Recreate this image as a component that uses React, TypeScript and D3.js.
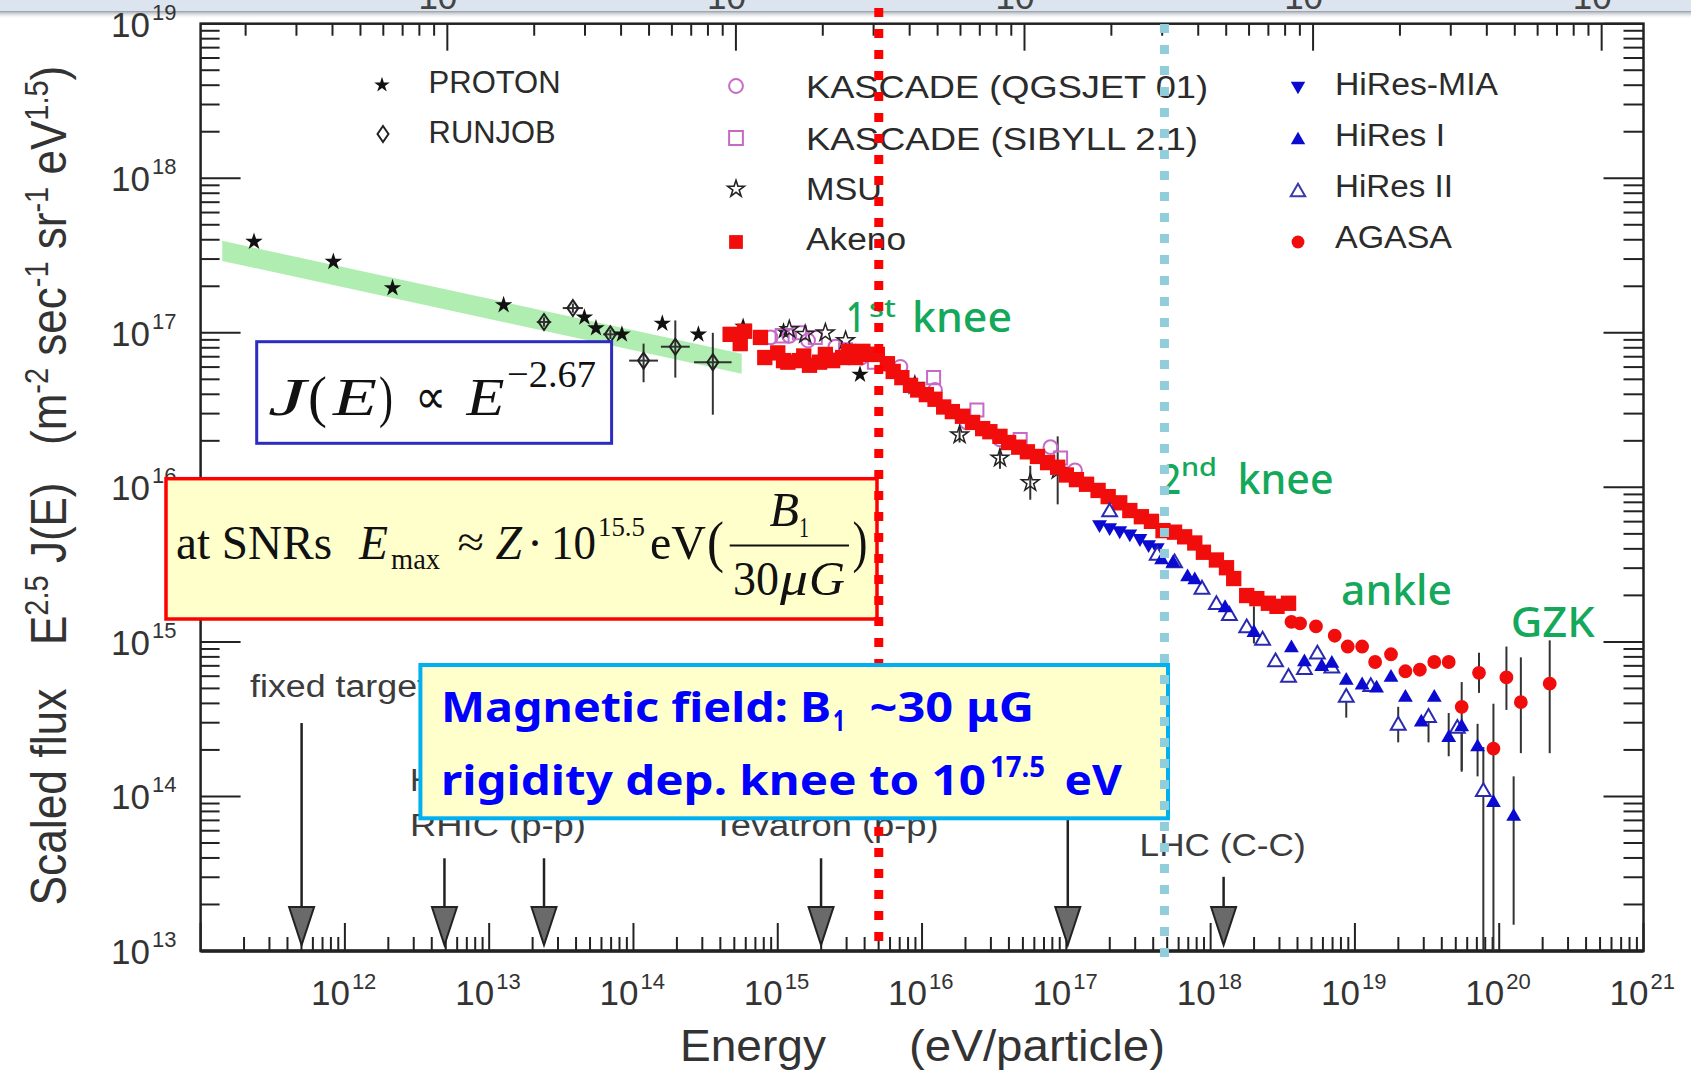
import React from "react";
import * as d3 from "d3";

const W = 1691;
const H = 1074;

// ---------------- axis values ----------------
const xLabelExponents = [12, 13, 14, 15, 16, 17, 18, 19, 20, 21];
const yLabelExponents = [13, 14, 15, 16, 17, 18, 19];
const topAxisMajorLogE = [12.71, 14.71, 16.71, 18.71, 20.71];

// ---------------- data (log10 E [eV], log10 E^2.5 J) ----------------
const protonBandLogE = [11.15, 14.75];
const protonBandLogF = [17.53, 16.8];
const protonBandHalf = 0.065;

const protonLogE = [11.37, 11.92, 12.33, 13.1, 13.66, 13.74, 13.92, 14.2, 14.45, 14.76, 15.04, 15.57];
const protonLogF = [17.59, 17.46, 17.29, 17.18, 17.1, 17.03, 16.99, 17.06, 16.99, 17.04, 17.01, 16.73];

const runjobLogE = [13.38, 13.58, 13.84, 14.07, 14.29, 14.55];
const runjobLogF = [17.07, 17.16, 16.99, 16.82, 16.91, 16.81];
const runjobErrLo = [17.04, 17.13, 16.96, 16.68, 16.71, 16.47];
const runjobErrHi = [17.1, 17.19, 17.02, 16.93, 17.08, 17.0];
const runjobEErr = [0.05, 0.07, 0.05, 0.1, 0.1, 0.13];

const kascadeQLogE = [14.95, 15.08, 15.21, 15.4, 15.58, 15.85, 16.09, 16.31, 16.54, 16.89, 17.06];
const kascadeQLogF = [16.97, 16.98, 16.95, 16.91, 16.84, 16.78, 16.63, 16.42, 16.31, 16.26, 16.11];

const kascadeSLogE = [15.03, 15.15, 15.26, 15.47, 15.67, 16.08, 16.38, 16.68, 16.96];
const kascadeSLogF = [16.98, 17.0, 16.97, 16.89, 16.81, 16.71, 16.5, 16.31, 16.19];

const msuLogE = [15.08, 15.19, 15.33, 15.47, 15.95, 16.26, 16.54, 16.75, 16.94];
const msuLogF = [17.02, 16.99, 17.0, 16.95, 16.66, 16.34, 16.19, 16.03, 16.11];
const msuErrLo = [NaN, NaN, NaN, NaN, NaN, 16.29, 16.12, 15.92, 15.89];
const msuErrHi = [NaN, NaN, NaN, NaN, NaN, 16.39, 16.25, 16.14, 16.33];

const akenoLogE = [14.67, 14.77, 14.88, 14.74, 14.91, 15.0, 15.04, 15.07, 15.15, 15.18, 15.22, 15.29, 15.33, 15.38, 15.45, 15.49, 15.54, 15.59, 15.62, 15.69, 15.76, 15.8, 15.86, 15.92, 15.97, 16.03, 16.09, 16.15, 16.21, 16.28, 16.35, 16.42, 16.47, 16.54, 16.6, 16.67, 16.73, 16.8, 16.87, 16.94, 17.0, 17.07, 17.14, 17.22, 17.29, 17.37, 17.44, 17.52, 17.59, 17.67, 17.75, 17.82, 17.89, 17.95, 18.04, 18.11, 18.16, 18.25, 18.32, 18.4, 18.46, 18.54];
const akenoLogF = [16.99, 17.01, 16.97, 16.93, 16.84, 16.87, 16.82, 16.81, 16.82, 16.85, 16.79, 16.81, 16.86, 16.82, 16.84, 16.88, 16.84, 16.88, 16.86, 16.86, 16.8, 16.75, 16.71, 16.66, 16.63, 16.6, 16.57, 16.52, 16.49, 16.46, 16.42, 16.38, 16.36, 16.33, 16.29, 16.26, 16.23, 16.2, 16.16, 16.13, 16.08, 16.05, 16.02, 15.98, 15.94, 15.9, 15.85, 15.81, 15.78, 15.72, 15.71, 15.68, 15.64, 15.58, 15.53, 15.48, 15.41, 15.3, 15.28, 15.25, 15.23, 15.25];

const hiresMiaLogE = [17.23, 17.3, 17.37, 17.44, 17.51, 17.57, 17.63];
const hiresMiaLogF = [15.76, 15.74, 15.72, 15.7, 15.67, 15.63, 15.61];

const hiresILogE = [17.66, 17.74, 17.84, 17.89, 18.1, 18.3, 18.56, 18.65, 18.77, 18.84, 18.94, 19.05, 19.15, 19.25, 19.35, 19.46, 19.55, 19.65, 19.74, 19.85, 19.96, 20.1];
const hiresILogF = [15.53, 15.51, 15.42, 15.4, 15.22, 15.06, 14.96, 14.87, 14.84, 14.86, 14.75, 14.72, 14.7, 14.77, 14.64, 14.48, 14.64, 14.38, 14.45, 14.32, 13.96, 13.87];
const hiresIErrLo = [NaN, NaN, NaN, NaN, NaN, 14.99, NaN, NaN, NaN, NaN, NaN, NaN, NaN, NaN, NaN, NaN, NaN, 14.26, 14.17, 14.13, NaN, 13.17];
const hiresIErrHi = [NaN, NaN, NaN, NaN, NaN, 15.23, NaN, NaN, NaN, NaN, NaN, NaN, NaN, NaN, NaN, NaN, NaN, 14.54, 14.47, 14.47, NaN, 14.13];

const hiresIILogE = [17.3, 17.63, 17.75, 17.94, 18.04, 18.13, 18.25, 18.36, 18.45, 18.54, 18.65, 18.74, 18.84, 18.94, 19.11, 19.3, 19.51, 19.71, 19.89];
const hiresIILogF = [15.84, 15.56, 15.51, 15.34, 15.24, 15.17, 15.09, 15.01, 14.87, 14.77, 14.82, 14.92, 14.83, 14.64, 14.71, 14.46, 14.51, 14.44, 14.03];
const hiresIIErrLo = [NaN, NaN, NaN, NaN, NaN, NaN, NaN, NaN, NaN, NaN, NaN, NaN, NaN, 14.51, NaN, 14.35, 14.35, NaN, 13.0];
const hiresIIErrHi = [NaN, NaN, NaN, NaN, NaN, NaN, NaN, NaN, NaN, NaN, NaN, NaN, NaN, 14.67, NaN, 14.58, 14.56, NaN, 14.32];

const agasaLogE = [18.56, 18.62, 18.73, 18.86, 18.95, 19.05, 19.14, 19.25, 19.35, 19.45, 19.55, 19.65, 19.74, 19.86, 19.96, 20.05, 20.15, 20.35];
const agasaLogF = [15.13, 15.12, 15.1, 15.04, 14.97, 14.97, 14.87, 14.92, 14.81, 14.82, 14.87, 14.87, 14.58, 14.8, 14.31, 14.77, 14.61, 14.73];
const agasaErrLo = [NaN, NaN, NaN, NaN, NaN, NaN, NaN, NaN, NaN, NaN, NaN, NaN, 14.16, 14.67, 13.0, 14.56, 14.28, 14.28];
const agasaErrHi = [NaN, NaN, NaN, NaN, NaN, NaN, NaN, NaN, NaN, NaN, NaN, NaN, 14.74, 14.93, 14.6, 14.97, 14.9, 15.01];

// accelerator arrows
const arrowLabels = ["fixed target", "HERA (γ-p)", "RHIC (p-p)", "Tevatron (p-p̄)", "LHC (p-p)", "LHC (C-C)"];
const arrowLogE = [11.7, 12.69, 13.38, 15.3, 17.01, 18.09];
const arrowTopLogF = [14.475, 13.6, 13.6, 13.6, 13.98, 13.48];

// vertical marker lines
const knee1LogE = 15.7;
const knee2LogE = 17.68;

const SANS = "'Liberation Sans', Arial, Helvetica, sans-serif";
const SERIF = "'Liberation Serif', 'Times New Roman', serif";
const KFONT = "'Noto Sans', 'Open Sans', sans-serif";

export default function App() {
  const left = 200.6, right = 1643.5, top = 23.7, bottom = 951;
  const x = d3.scaleLog().domain([1e11, 1e21]).range([left, right]);
  const y = d3.scaleLog().domain([1e13, 1e19]).range([bottom, top]);
  const X = (v: number) => x(Math.pow(10, v));
  const Y = (v: number) => y(Math.pow(10, v));
  const sym = (type: any, size: number) => d3.symbol().type(type).size(size)() as string;

  const starP = sym(d3.symbolStar, 95);
  const squareP = sym(d3.symbolSquare, 235);
  const circleP = sym(d3.symbolCircle, 150);
  const triP = sym(d3.symbolTriangle, 95);
  const kCircleP = sym(d3.symbolCircle, 150);
  const kSquareP = sym(d3.symbolSquare, 170);
  const diamondP = "M0,-8L5.5,0L0,8L-5.5,0Z";

  // ticks
  const bottomTicks: { p: number; major: boolean }[] = [];
  for (let k = 11; k <= 21; k++) {
    for (let m = 1; m <= 9; m++) {
      const le = k + Math.log10(m);
      if (le <= 21.0001) bottomTicks.push({ p: X(le), major: m === 1 });
    }
  }
  const leftTicks: { p: number; major: boolean }[] = [];
  for (let k = 13; k <= 19; k++) {
    for (let m = 1; m <= 9; m++) {
      const le = k + Math.log10(m);
      if (le <= 19.0001) leftTicks.push({ p: Y(le), major: m === 1 });
    }
  }
  const topTicks: { p: number; major: boolean }[] = [];
  const topBases = [topAxisMajorLogE[0] - 2, ...topAxisMajorLogE];
  topBases.forEach((b) => {
    for (let m = 1; m <= 9; m++) {
      const le = b + 2 * Math.log10(m);
      if (le >= 11 && le <= 21) topTicks.push({ p: X(le), major: m === 1 });
    }
  });

  const band = d3
    .area<[number, number]>()
    .x((d) => X(d[0]))
    .y0((d) => Y(d[1] - protonBandHalf))
    .y1((d) => Y(d[1] + protonBandHalf));
  const bandPath = band(protonBandLogE.map((e, i) => [e, protonBandLogF[i]] as [number, number])) as string;

  const errBars = (es: number[], lo: number[], hi: number[], key: string) =>
    es.map((e, i) =>
      isNaN(lo[i]) ? null : (
        <line key={key + i} x1={X(e)} x2={X(e)} y1={Y(lo[i])} y2={Y(hi[i])} stroke="#333" strokeWidth={2} />
      )
    );

  const markers = (es: number[], fs: number[], path: string, props: any, key: string, rot = 0) =>
    es.map((e, i) => (
      <path
        key={key + i}
        d={path}
        transform={`translate(${X(e)},${Y(fs[i])})${rot ? ` rotate(${rot})` : ""}`}
        {...props}
      />
    ));

  const legendText = (t: string, xx: number, yy: number, len: number) => (
    <text x={xx} y={yy} fontFamily={SANS} fontSize={31} fill="#2b2b2b" textLength={len} lengthAdjust="spacingAndGlyphs">
      {t}
    </text>
  );

  const arrowX = arrowLogE.map((e) => X(e));
  const tip = bottom - 6;
  const headTop = tip - 38;

  const violet = "#c66ac8";
  const red = "#f20d0d";
  const blue = "#0a0ad0";
  const green = "#14a85a";

  return (
    <svg
      width={W}
      height={H}
      viewBox={`0 0 ${W} ${H}`}
      style={{ position: "absolute", left: 0, top: 0, background: "#fff" }}
    >
      <defs>
        <linearGradient id="shadow" x1="0" y1="0" x2="0" y2="1">
          <stop offset="0" stopColor="#8d96a0" stopOpacity={0.9} />
          <stop offset="1" stopColor="#ffffff" stopOpacity={0} />
        </linearGradient>
      </defs>
      <rect x={0} y={0} width={W} height={H} fill="#fff" />
      {/* top slide band */}
      <rect x={0} y={0} width={W} height={12} fill="#dbe4ef" />
      <rect x={0} y={11} width={W} height={8} fill="url(#shadow)" />

      {/* top axis label fragments */}
      {topAxisMajorLogE.map((e, i) => (
        <text key={"tl" + i} x={X(e) + 10} y={8.5} textAnchor="end" fontFamily={SANS} fontSize={35} fill="#444">
          10
        </text>
      ))}

      {/* frame */}
      <rect x={left} y={top} width={right - left} height={bottom - top} fill="none" stroke="#222" strokeWidth={2.5} />
      <line x1={left} x2={right} y1={bottom} y2={bottom} stroke="#222" strokeWidth={3.5} />

      {/* ticks */}
      {bottomTicks.map((t, i) => (
        <line key={"bt" + i} x1={t.p} x2={t.p} y1={bottom} y2={bottom - (t.major ? 28 : 14)} stroke="#222" strokeWidth={2} />
      ))}
      {topTicks.map((t, i) => (
        <line key={"tt" + i} x1={t.p} x2={t.p} y1={top} y2={top + (t.major ? 27 : 12)} stroke="#222" strokeWidth={2} />
      ))}
      {leftTicks.map((t, i) => (
        <line key={"lt" + i} x1={left} x2={left + (t.major ? 40 : 19)} y1={t.p} y2={t.p} stroke="#222" strokeWidth={2} />
      ))}
      {leftTicks.map((t, i) => (
        <line key={"rt" + i} x1={right} x2={right - (t.major ? 40 : 20)} y1={t.p} y2={t.p} stroke="#222" strokeWidth={2} />
      ))}

      {/* tick labels */}
      {xLabelExponents.map((k) => (
        <g key={"xl" + k} fontFamily={SANS} fill="#333">
          <text x={X(k) + 5} y={1005} textAnchor="end" fontSize={35}>
            10
          </text>
          <text x={X(k) + 7} y={989} fontSize={22}>
            {k}
          </text>
        </g>
      ))}
      {yLabelExponents.map((k) => (
        <g key={"yl" + k} fontFamily={SANS} fill="#333">
          <text x={150} y={Y(k) + 13} textAnchor="end" fontSize={35}>
            10
          </text>
          <text x={152} y={Y(k) - 4} fontSize={22}>
            {k}
          </text>
        </g>
      ))}

      {/* axis titles */}
      <g fontFamily={SANS} fill="#333">
        <text x={680} y={1061} fontSize={45} textLength={146} lengthAdjust="spacingAndGlyphs">
          Energy
        </text>
        <text x={909} y={1061} fontSize={45} textLength={256} lengthAdjust="spacingAndGlyphs">
          (eV/particle)
        </text>
      </g>
      <g transform="translate(66,0) scale(1.13,1) rotate(-90)" fontFamily={SANS} fill="#333" fontSize={44}>
        <text x={-905.6} y={0} textLength={217} lengthAdjust="spacingAndGlyphs">
          Scaled flux
        </text>
        <text x={-645} y={0}>
          E<tspan dy={-16} fontSize={29}>2.5</tspan>
          <tspan dy={16}> J(E)</tspan>
        </text>
        <text x={-445} y={0}>
          (m<tspan dy={-16} fontSize={29}>-2</tspan>
          <tspan dy={16}> sec</tspan>
          <tspan dy={-16} fontSize={29}>-1</tspan>
          <tspan dy={16}> sr</tspan>
          <tspan dy={-16} fontSize={29}>-1</tspan>
          <tspan dy={16}> eV</tspan>
          <tspan dy={-16} fontSize={29}>1.5</tspan>
          <tspan dy={16}>)</tspan>
        </text>
      </g>

      {/* proton fit band */}
      <path d={bandPath} fill="#8ee68e" opacity={0.7} />

      {/* error bars */}
      {errBars(runjobLogE, runjobErrLo, runjobErrHi, "rje")}
      {runjobLogE.map((e, i) => (
        <line key={"rjh" + i} x1={X(e - runjobEErr[i])} x2={X(e + runjobEErr[i])} y1={Y(runjobLogF[i])} y2={Y(runjobLogF[i])} stroke="#333" strokeWidth={2} />
      ))}
      {errBars(msuLogE, msuErrLo, msuErrHi, "mse")}
      {errBars(hiresILogE, hiresIErrLo, hiresIErrHi, "h1e")}
      {errBars(hiresIILogE, hiresIIErrLo, hiresIIErrHi, "h2e")}
      {errBars(agasaLogE, agasaErrLo, agasaErrHi, "age")}

      {/* data markers */}
      {markers(runjobLogE, runjobLogF, diamondP, { fill: "none", stroke: "#222", strokeWidth: 2 }, "rj")}
      {markers(protonLogE, protonLogF, starP, { fill: "#111" }, "pr")}
      {markers(kascadeQLogE, kascadeQLogF, kCircleP, { fill: "none", stroke: violet, strokeWidth: 2 }, "kq")}
      {markers(kascadeSLogE, kascadeSLogF, kSquareP, { fill: "none", stroke: violet, strokeWidth: 2 }, "ks")}
      {markers(msuLogE, msuLogF, starP, { fill: "none", stroke: "#222", strokeWidth: 1.5 }, "ms")}
      {markers(akenoLogE, akenoLogF, squareP, { fill: red }, "ak")}
      {markers(hiresMiaLogE, hiresMiaLogF, triP, { fill: blue }, "hm", 180)}
      {markers(hiresIILogE, hiresIILogF, triP, { fill: "#fff", stroke: "#2a2ab0", strokeWidth: 2 }, "h2")}
      {markers(hiresILogE, hiresILogF, triP, { fill: blue }, "h1")}
      {markers(agasaLogE, agasaLogF, circleP, { fill: red }, "ag")}

      {/* legends */}
      <path d={sym(d3.symbolStar, 75)} transform="translate(382,85)" fill="#111" />
      <path d={diamondP} transform="translate(383,134)" fill="none" stroke="#222" strokeWidth={2} />
      {legendText("PROTON", 428.6, 93, 132)}
      {legendText("RUNJOB", 428.6, 143, 127)}

      <path d={sym(d3.symbolCircle, 150)} transform="translate(736,86)" fill="none" stroke={violet} strokeWidth={2} />
      <path d={sym(d3.symbolSquare, 190)} transform="translate(736,138)" fill="none" stroke={violet} strokeWidth={2} />
      <path d={sym(d3.symbolStar, 85)} transform="translate(736,189)" fill="none" stroke="#222" strokeWidth={1.6} />
      <path d={sym(d3.symbolSquare, 190)} transform="translate(736,242)" fill={red} />
      {legendText("KASCADE (QGSJET 01)", 806, 98, 402)}
      {legendText("KASCADE (SIBYLL 2.1)", 806, 150, 392)}
      {legendText("MSU", 806, 200, 76)}
      {legendText("Akeno", 806, 250, 100)}

      <path d={sym(d3.symbolTriangle, 90)} transform="translate(1298,86) rotate(180)" fill={blue} />
      <path d={sym(d3.symbolTriangle, 90)} transform="translate(1298,140)" fill={blue} />
      <path d={sym(d3.symbolTriangle, 90)} transform="translate(1298,192)" fill="#fff" stroke="#3a3aa8" strokeWidth={2} />
      <path d={sym(d3.symbolCircle, 130)} transform="translate(1298,242)" fill={red} />
      {legendText("HiRes-MIA", 1335, 95, 163)}
      {legendText("HiRes I", 1335, 146, 110)}
      {legendText("HiRes II", 1335, 197, 118)}
      {legendText("AGASA", 1335, 248, 117)}

      {/* accelerator arrows */}
      {arrowX.map((ax, i) => (
        <g key={"ar" + i}>
          <line x1={ax} x2={ax} y1={Y(arrowTopLogF[i])} y2={headTop} stroke="#222" strokeWidth={2.5} />
          <path d={`M${ax - 12.5},${headTop}L${ax + 12.5},${headTop}L${ax},${tip}Z`} fill="#6a6a6a" stroke="#222" strokeWidth={2} />
        </g>
      ))}
      <g fontFamily={SANS} fontSize={31} fill="#3c3c3c">
        <text x={250} y={697} textLength={177} lengthAdjust="spacingAndGlyphs">{arrowLabels[0]}</text>
        <text x={410} y={791} textLength={168} lengthAdjust="spacingAndGlyphs">{arrowLabels[1]}</text>
        <text x={410} y={836} textLength={176} lengthAdjust="spacingAndGlyphs">{arrowLabels[2]}</text>
        <text x={712.6} y={836} textLength={226} lengthAdjust="spacingAndGlyphs">{arrowLabels[3]}</text>
        <text x={985} y={791} textLength={150} lengthAdjust="spacingAndGlyphs">{arrowLabels[4]}</text>
        <text x={1139.6} y={856} textLength={166} lengthAdjust="spacingAndGlyphs">{arrowLabels[5]}</text>
      </g>

      {/* green annotations */}
      <g fontFamily={KFONT} fill={green} fontWeight={500}>
        <text x={846} y={331.7} fontSize={42} textLength={19} lengthAdjust="spacingAndGlyphs">1</text>
        <text x={869} y={317} fontSize={26} textLength={27} lengthAdjust="spacingAndGlyphs">st</text>
        <text x={912} y={331.7} fontSize={42} textLength={100} lengthAdjust="spacingAndGlyphs">knee</text>
        <text x={1161} y={494} fontSize={42} textLength={20} lengthAdjust="spacingAndGlyphs">2</text>
        <text x={1181} y={476} fontSize={26} textLength={36} lengthAdjust="spacingAndGlyphs">nd</text>
        <text x={1237.6} y={494} fontSize={42} textLength={96} lengthAdjust="spacingAndGlyphs">knee</text>
        <text x={1341} y={605} fontSize={42} textLength={111} lengthAdjust="spacingAndGlyphs">ankle</text>
        <text x={1510.7} y={636.7} fontSize={42} textLength={84} lengthAdjust="spacingAndGlyphs">GZK</text>
      </g>

      {/* J(E) box */}
      <rect x={256.7} y={341.7} width={354.9} height={101.6} fill="#fff" stroke="#2c2cc0" strokeWidth={3} />
      <g fontFamily={SERIF} fill="#111" fontSize={52}>
        <text x={268} y={415} fontStyle="italic" textLength={38} lengthAdjust="spacingAndGlyphs">J</text>
        <text x={308} y={416} fontSize={56} textLength={19} lengthAdjust="spacingAndGlyphs">(</text>
        <text x={333} y={415} fontStyle="italic" textLength={44} lengthAdjust="spacingAndGlyphs">E</text>
        <text x={379} y={416} fontSize={56} textLength={14} lengthAdjust="spacingAndGlyphs">)</text>
        <text x={415} y={413} fontSize={48} textLength={31} lengthAdjust="spacingAndGlyphs">∝</text>
        <text x={466.5} y={415} fontStyle="italic" textLength={38} lengthAdjust="spacingAndGlyphs">E</text>
        <text x={507} y={387} fontSize={38} textLength={89} lengthAdjust="spacingAndGlyphs">−2.67</text>
      </g>

      {/* SNR box */}
      <rect x={166} y={478.7} width={711} height={140.3} fill="#ffffcc" stroke="#ff0000" strokeWidth={3.5} />
      <g fontFamily={SERIF} fill="#111" fontSize={48}>
        <text x={176} y={559} textLength={156} lengthAdjust="spacingAndGlyphs">at SNRs</text>
        <text x={359} y={559} fontStyle="italic" textLength={29} lengthAdjust="spacingAndGlyphs">E</text>
        <text x={391} y={569} fontSize={30} textLength={49} lengthAdjust="spacingAndGlyphs">max</text>
        <text x={457.6} y={557} fontSize={44} textLength={26.5} lengthAdjust="spacingAndGlyphs">≈</text>
        <text x={495.5} y={559} fontStyle="italic" textLength={26.5} lengthAdjust="spacingAndGlyphs">Z</text>
        <text x={527} y={559}>·</text>
        <text x={551} y={559} textLength={45} lengthAdjust="spacingAndGlyphs">10</text>
        <text x={598} y={536} fontSize={28} textLength={47} lengthAdjust="spacingAndGlyphs">15.5</text>
        <text x={650} y={559} textLength={56} lengthAdjust="spacingAndGlyphs">eV</text>
        <text x={707} y={561} fontSize={56} textLength={17} lengthAdjust="spacingAndGlyphs">(</text>
        <text x={769.5} y={525.6} fontStyle="italic" textLength={29.5} lengthAdjust="spacingAndGlyphs">B</text>
        <text x={799} y={537} fontSize={30} textLength={10} lengthAdjust="spacingAndGlyphs">1</text>
        <line x1={729.7} x2={849} y1={545.5} y2={545.5} stroke="#111" strokeWidth={2} />
        <text x={733} y={595} textLength={46} lengthAdjust="spacingAndGlyphs">30</text>
        <text x={780} y={595} fontStyle="italic" textLength={28} lengthAdjust="spacingAndGlyphs">μ</text>
        <text x={809} y={595} fontStyle="italic" textLength={36} lengthAdjust="spacingAndGlyphs">G</text>
        <text x={852.5} y={561} fontSize={56} textLength={15} lengthAdjust="spacingAndGlyphs">)</text>
      </g>

      {/* red dotted knee line */}
      <line x1={X(knee1LogE)} x2={X(knee1LogE)} y1={8} y2={952} stroke="#ff0000" strokeWidth={9} strokeDasharray="9 12" />

      {/* magnetic field box */}
      <rect x={420.4} y={665} width={747.6} height={153.3} fill="#ffffcc" stroke="#00b0f0" strokeWidth={4} />
      <g fontFamily={KFONT} fontWeight={700} fill="#0000ff" fontSize={42}>
        <text x={441} y={721.7} textLength={390} lengthAdjust="spacingAndGlyphs">Magnetic field: B</text>
        <text x={833} y={731} fontSize={28} textLength={12} lengthAdjust="spacingAndGlyphs">1</text>
        <text x={869.5} y={721.7} textLength={164.5} lengthAdjust="spacingAndGlyphs">~30 μG</text>
        <text x={441} y={795} textLength={545} lengthAdjust="spacingAndGlyphs">rigidity dep. knee to 10</text>
        <text x={990} y={777} fontSize={28} textLength={55} lengthAdjust="spacingAndGlyphs">17.5</text>
        <text x={1064.6} y={795} textLength={57.4} lengthAdjust="spacingAndGlyphs">eV</text>
      </g>

      {/* light blue dotted line */}
      <line x1={X(knee2LogE)} x2={X(knee2LogE)} y1={24} y2={967} stroke="#92cddc" strokeWidth={9} strokeDasharray="9 12" />
    </svg>
  );
}
